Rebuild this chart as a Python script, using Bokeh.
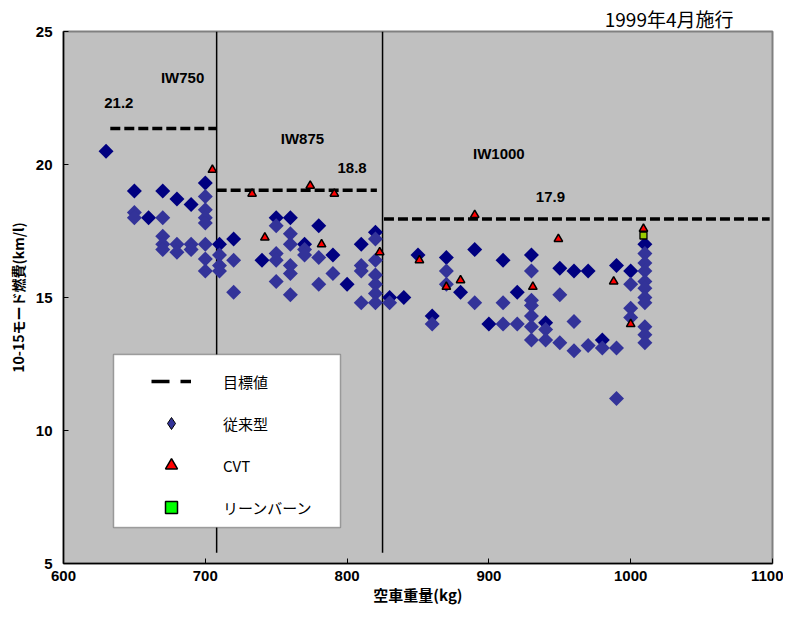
import numpy as np
from bokeh.plotting import figure
from bokeh.models import Range1d, BoxAnnotation, Legend, LegendItem, Title, FixedTicker
from bokeh.embed import file_html
from bokeh.resources import INLINE
from bokeh.core.properties import value

# ---- data ----
# conventional (dark markers)
conv_dark_x = [630, 650, 660, 670, 680, 690, 700, 710, 720, 740, 750, 760, 770, 780, 790,
               800, 810, 820, 830, 840, 850, 860, 870, 880, 890, 900, 910, 920, 930, 940,
               950, 960, 970, 980, 990, 1000, 1010]
conv_dark_y = [20.5, 19.0, 18.0, 19.0, 18.7, 18.5, 19.3, 17.0, 17.2, 16.4, 18.0, 18.0, 17.0, 17.7, 16.6,
               15.5, 17.0, 17.45, 15.0, 15.0, 16.6, 14.3, 16.5, 15.2, 16.8, 14.0, 16.4, 15.2, 16.6, 14.05,
               16.1, 16.0, 16.0, 13.4, 16.2, 16.0, 17.0]
# conventional (lighter markers)
conv_light_x = [650, 650,
                670, 670, 670, 670,
                680, 680,
                690, 690,
                700, 700, 700, 700, 700, 700, 700,
                710, 710, 710,
                720, 720,
                750, 750, 750, 750,
                760, 760, 760, 760, 760,
                770, 770,
                780, 780,
                790,
                810, 810, 810,
                820, 820, 820, 820, 820, 820,
                830,
                860,
                870, 870,
                890,
                910, 910,
                920,
                930, 930, 930, 930, 930, 930,
                940, 940,
                950, 950,
                960, 960,
                970,
                980,
                990, 990,
                1000, 1000, 1000,
                1010, 1010, 1010, 1010, 1010, 1010, 1010, 1010, 1010, 1010]
conv_light_y = [18.2, 18.0,
                18.0, 17.3, 17.0, 16.8,
                17.0, 16.7,
                17.0, 16.8,
                18.8, 18.3, 18.0, 17.8, 17.0, 16.45, 16.0,
                16.6, 16.2, 16.0,
                16.4, 15.2,
                17.7, 16.65, 16.4, 15.6,
                17.4, 17.0, 16.2, 15.9, 15.1,
                16.8, 16.6,
                16.5, 15.5,
                15.9,
                16.2, 16.0, 14.8,
                17.2, 16.4, 15.85, 15.5, 15.15, 14.8,
                14.8,
                14.0,
                16.0, 15.5,
                14.8,
                14.8, 14.0,
                14.0,
                16.0, 14.9, 14.7, 14.3, 13.9, 13.4,
                13.8, 13.4,
                15.1, 13.3,
                14.1, 13.0,
                13.2,
                13.1,
                13.1, 11.2,
                15.5, 14.6, 14.25,
                16.65, 16.3, 16.0, 15.6, 15.35, 15.0, 14.8, 13.9, 13.6, 13.3]
# CVT
cvt_x = [705, 733, 742, 774, 782, 791, 823, 851, 870, 880, 890, 931, 949, 988, 1000, 1009]
cvt_y = [19.8, 18.9, 17.25, 19.2, 17.0, 18.9, 16.7, 16.4, 15.4, 15.65, 18.1, 15.4, 17.2, 15.6, 14.0, 17.58]
# lean burn
lean_x = [1009]
lean_y = [17.33]

# weight class boundaries and targets
class_bounds = [708, 825]
class_bound_top = 25
class_bound_bottom = 5.4
target_x0 = [633, 708, 826]
target_x1 = [708, 821, 1098]
target_y = [21.35, 19.03, 17.95]
target_labels = ["21.2", "18.8", "17.9"]
target_label_x = [639, 803.5, 943.4]
target_label_y = [22.3, 19.87, 18.76]
class_labels = ["IW750", "IW875", "IW1000"]
class_label_x = [684, 768.5, 907]
class_label_y = [23.28, 20.98, 20.42]

x_ticks = [600, 700, 800, 900, 1000, 1100]
y_ticks = [5, 10, 15, 20, 25]

legend_labels = ["目標値", "従来型", "CVT", "リーンバーン"]
note_text = "1999年4月施行"

CJK = "Noto Sans CJK JP"
LAT = "Liberation Sans"

p = figure(width=783, height=609, x_range=Range1d(600, 1100), y_range=Range1d(5, 25),
           output_backend="svg", toolbar_location=None,
           min_border_left=63, min_border_right=11, min_border_top=31, min_border_bottom=46)

p.background_fill_color = "#C0C0C0"
p.border_fill_color = "white"
p.outline_line_color = "#808080"
p.outline_line_width = 2
p.grid.visible = False

p.xaxis.ticker = FixedTicker(ticks=x_ticks)
p.yaxis.ticker = FixedTicker(ticks=y_ticks)
p.axis.major_tick_in = 5
p.axis.major_tick_out = 0
p.axis.minor_tick_line_color = None
p.axis.axis_line_color = "black"
p.axis.axis_line_width = 1.5
p.axis.major_tick_line_color = "black"
p.axis.major_label_text_font = LAT
p.axis.major_label_text_font_style = "bold"
p.axis.major_label_text_font_size = "15px"
p.axis.major_label_text_color = "black"
p.xaxis.major_label_standoff = 7
p.yaxis.major_label_standoff = 11
p.xaxis.axis_label = "空車重量(kg)"
p.yaxis.axis_label = "10-15モード燃費(km/l)"
p.axis.axis_label_text_font = CJK
p.axis.axis_label_text_font_style = "bold"
p.xaxis.axis_label_text_font_size = "15px"
p.yaxis.axis_label_text_font_size = "14px"
p.axis.axis_label_text_color = "black"
p.xaxis.axis_label_standoff = 0
p.yaxis.axis_label_standoff = 5

p.add_layout(Title(text=note_text, align="right", offset=39, standoff=0,
                   text_font=CJK, text_font_size="19px", text_font_style="normal",
                   text_color="black"), "above")

# class boundary lines
p.segment(x0=class_bounds, x1=class_bounds, y0=class_bound_top, y1=class_bound_bottom,
          line_color="black", line_width=1.5)
# target lines
p.segment(x0=target_x0, x1=target_x1, y0=target_y, y1=target_y,
          line_color="black", line_width=3.5, line_dash="10 4")

# markers
p.scatter(conv_dark_x, conv_dark_y, marker="square", size=10.6, angle=np.pi / 4,
          fill_color="#000080", line_color=None)
p.scatter(conv_light_x, conv_light_y, marker="square", size=10.6, angle=np.pi / 4,
          fill_color="#333399", line_color=None)
p.scatter(lean_x, lean_y, marker="square", size=7, fill_color="#99CC00",
          line_color="black", line_width=1.3)
p.scatter(cvt_x, cvt_y, marker="triangle", size=8.5, fill_color="red",
          line_color="black", line_width=1.5)

# texts in the plot
p.text(x=target_label_x, y=target_label_y, text=target_labels, text_font=value(LAT),
       text_font_style="bold", text_font_size="15px", text_align="center",
       text_baseline="middle", text_color="black")
p.text(x=class_label_x, y=class_label_y, text=class_labels, text_font=value(LAT),
       text_font_style="bold", text_font_size="15px", text_align="center",
       text_baseline="middle", text_color="black")

# legend box
box = BoxAnnotation(left=635.3, right=795.3, top=12.86, bottom=6.35,
                    fill_color="white", fill_alpha=1.0, line_color="black", line_width=1.5)
p.add_layout(box)

nan = [np.nan]
leg_line = p.line(x=nan, y=nan, line_color="black", line_width=3.5, line_dash="18 11")
leg_dia = p.scatter(x=nan, y=nan, marker="diamond", fill_color="#333399", line_color="black", line_width=1)
leg_tri = p.scatter(x=nan, y=nan, marker="triangle", fill_color="red", line_color="black", line_width=1.5)
leg_sq = p.scatter(x=nan, y=nan, marker="square", fill_color="#00FF00", line_color="black", line_width=1.5)

legend = Legend(items=[LegendItem(label=legend_labels[0], renderers=[leg_line]),
                       LegendItem(label=legend_labels[1], renderers=[leg_dia]),
                       LegendItem(label=legend_labels[2], renderers=[leg_tri]),
                       LegendItem(label=legend_labels[3], renderers=[leg_sq])],
                location=(88, 41), orientation="vertical",
                glyph_width=40, glyph_height=30, label_height=30,
                spacing=12, padding=10, margin=0, label_standoff=32,
                background_fill_alpha=0, border_line_color=None,
                label_text_font=CJK, label_text_font_size="15px", label_text_color="black")
p.add_layout(legend)

open("out.html", "w").write(file_html(p, INLINE))
